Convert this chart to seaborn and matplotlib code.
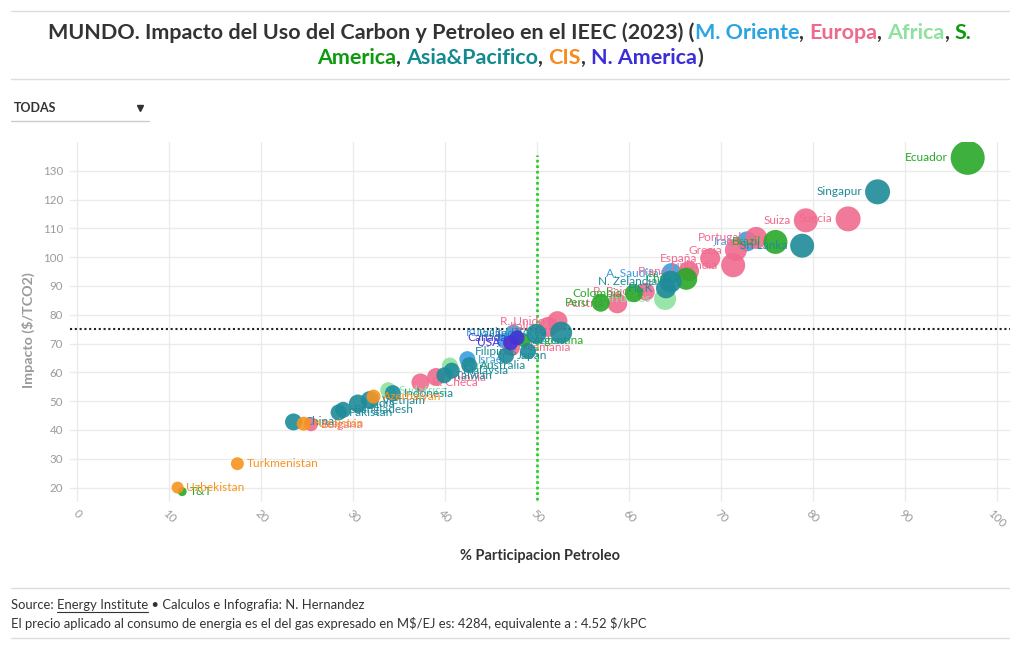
import matplotlib
matplotlib.use("Agg")
import numpy as np
import pandas as pd
import matplotlib.pyplot as plt
import seaborn as sns
from matplotlib.lines import Line2D

# ---------------- data ----------------
paises = ["Ecuador", "Singapur", "Suecia", "Suiza", "Sri Lanka", "Brazil", "Portugal", "Iraq",
          "Grecia", "Finlandia", "España", "Francia", "Chile", "A. Saudita", "N. Zelandia", "H&K",
          "Marruecos", "P. Bajos", "Colombia", "Austria", "Peru", "R. Unido", "Italia", "Korea",
          "Tailandia", "Kuwait", "Canada", "USA", "Filipinas", "E. Arabes", "Argentina", "Alemania",
          "Japan", "Israel", "Australia", "Egipto", "Malaysia", "Taiwan", "Polonia", "R. Checa",
          "Sudafrica", "Indonesia", "Azerbaiyan", "Vietnam", "India", "Bangladesh", "Pakistan",
          "China", "Kazajstan", "Bulgaria", "Turkmenistan", "Uzbekistan", "T&T"]
regiones = ["S. America", "Asia&Pacifico", "Europa", "Europa", "Asia&Pacifico", "S. America", "Europa", "M. Oriente",
            "Europa", "Europa", "Europa", "Europa", "S. America", "M. Oriente", "Asia&Pacifico", "Asia&Pacifico",
            "Africa", "Europa", "S. America", "Europa", "S. America", "Europa", "Europa", "Asia&Pacifico",
            "Asia&Pacifico", "M. Oriente", "N. America", "N. America", "Asia&Pacifico", "M. Oriente", "S. America", "Europa",
            "Asia&Pacifico", "M. Oriente", "Asia&Pacifico", "Africa", "Asia&Pacifico", "Asia&Pacifico", "Europa", "Europa",
            "Africa", "Asia&Pacifico", "CIS", "Asia&Pacifico", "Asia&Pacifico", "Asia&Pacifico", "Asia&Pacifico",
            "Asia&Pacifico", "CIS", "Europa", "CIS", "CIS", "S. America"]
petroleo = [96.8, 87.0, 83.8, 79.2, 78.8, 75.9, 73.8, 72.8,
            71.6, 71.3, 68.8, 66.5, 66.2, 64.6, 64.5, 64.0,
            63.9, 61.8, 60.5, 58.7, 56.9, 52.2, 51.2, 52.6,
            49.9, 47.4, 47.8, 47.1, 49.0, 46.5, 48.5, 47.2,
            46.6, 42.4, 42.6, 40.5, 40.7, 39.9, 39.0, 37.3,
            33.8, 34.3, 32.2, 31.8, 30.5, 28.9, 28.4,
            23.5, 24.6, 25.4, 17.4, 10.9, 11.4]
impacto = [134.5, 122.7, 113.3, 112.8, 104.0, 105.3, 106.7, 105.5,
           102.5, 97.2, 99.6, 95.2, 92.5, 94.5, 91.5, 89.2,
           85.5, 88.0, 87.5, 84.0, 84.2, 77.8, 75.8, 73.8,
           73.4, 73.8, 72.0, 70.3, 67.4, 71.0, 71.2, 68.6,
           65.8, 64.6, 62.5, 62.4, 60.6, 59.0, 58.4, 56.5,
           53.8, 52.8, 51.6, 50.4, 49.2, 47.0, 46.1,
           42.8, 42.2, 42.0, 28.3, 20.0, 18.6]
consumo = [289, 156, 156, 144, 144, 144, 121, 100,
           121, 144, 100, 100, 121, 100, 121, 100,
           121, 81, 81, 100, 81, 100, 100, 121,
           100, 64, 56, 56, 64, 64, 49, 72,
           64, 64, 64, 64, 64, 64, 81, 81,
           64, 64, 49, 81, 81, 64, 64,
           72, 49, 49, 42, 36, 20]
lado_etiqueta = ["l"] * 30 + ["r"] * 23
lado_etiqueta[29] = "r"
lado_etiqueta[28] = "l"

orden_regiones = ["M. Oriente", "Europa", "Africa", "S. America", "Asia&Pacifico", "CIS", "N. America"]
colores = {"M. Oriente": "#3a9ee0", "Europa": "#f06b8f", "Africa": "#8ee2a0", "S. America": "#28a828",
           "Asia&Pacifico": "#1f8b99", "CIS": "#f7941f", "N. America": "#4533d6"}
colores_titulo = {"M. Oriente": "#2aa4e4", "Europa": "#ee6a8d", "Africa": "#8ee2a0", "S. America": "#0e9a0e",
                  "Asia&Pacifico": "#128a90", "CIS": "#f78b1f", "N. America": "#3b2ed8"}

ref_x, ref_x_desde, ref_x_hasta = 50, 15.8, 135.5
ref_y = 75

# ---------------- figure ----------------
sns.set_theme(style="white")
plt.rcParams['font.family'] = ['Lato', 'DejaVu Sans']

W, H = 1020, 650
fig = plt.figure(figsize=(W / 100, H / 100), dpi=100)
fig.patch.set_facecolor("white")
ax = fig.add_axes([70 / W, 1 - 502 / H, (1010 - 70) / W, (502 - 142) / H])

df = pd.DataFrame(dict(pais=paises, region=regiones, petroleo=petroleo, impacto=impacto,
                       consumo=consumo, lado=lado_etiqueta))
cmin, cmax = df.consumo.min(), df.consumo.max()
k = 2.0736

ax.axhline(ref_y, color="#222222", lw=1.5, ls=(0, (1, 1.3)), zorder=2)
ax.vlines(ref_x, ref_x_desde, ref_x_hasta, color="#22cc22", lw=1.9, ls=(0, (1, 1.1)), zorder=2)

for i, reg in enumerate(orden_regiones):
    sub = df[df.region == reg]
    sns.scatterplot(data=sub, x="petroleo", y="impacto", size="consumo",
                    sizes=(k * cmin, k * cmax), size_norm=(cmin, cmax),
                    color=colores[reg], alpha=0.9, linewidth=0, legend=False,
                    ax=ax, zorder=3 + 2 * i)
    for row in sub.itertuples():
        r_pt = np.sqrt(k * row.consumo) / 2
        off = r_pt + 2
        left = row.lado == "l"
        ax.annotate(row.pais, (row.petroleo, row.impacto),
                    xytext=(-off if left else off, 0), textcoords="offset points",
                    ha="right" if left else "left", va="center", fontsize=8.6,
                    color=colores[reg], zorder=4 + 2 * i)

ax.set_xlim(-0.8, 101.4)
ax.set_ylim(15, 140)
ax.set_xticks(range(0, 101, 10))
ax.set_yticks(range(20, 131, 10))
ax.grid(True, color="#ebebeb", lw=1)
ax.set_axisbelow(True)
for s in ax.spines.values():
    s.set_visible(False)
ax.tick_params(axis="both", length=0, labelsize=8.3, labelcolor="#9a9a9a")
ax.tick_params(axis="y", pad=5)
ax.tick_params(axis="x", pad=4)
plt.setp(ax.get_xticklabels(), rotation=-45, ha="center")
ax.set_xlabel("")
ax.set_ylabel("")

fig.text(540 / W, 1 - 556 / H, "% Participacion Petroleo", ha="center", va="center",
         fontsize=10.5, weight="bold", color="#333333")
fig.text(28 / W, 1 - 330 / H, "Impacto ($/TCO2)", ha="center", va="center", rotation=90,
         fontsize=10.3, weight="bold", color="#9a9a9a", parse_math=False)

renderer = fig.canvas.get_renderer()


def text_width(s, **kw):
    if not s:
        return 0.0
    t = fig.text(0, 0, s + "|", parse_math=False, **kw)
    w1 = t.get_window_extent(renderer).width
    t.remove()
    t = fig.text(0, 0, "|", parse_math=False, **kw)
    w2 = t.get_window_extent(renderer).width
    t.remove()
    return w1 - w2


def draw_segments(segs, y_px, x_px, align="center", **kw):
    full = "".join(s for s, _ in segs)
    total = text_width(full, **kw)
    x0 = x_px - total / 2 if align == "center" else x_px
    pos = []
    prefix = ""
    for s, c in segs:
        x = x0 + text_width(prefix, **kw)
        fig.text(x / W, 1 - y_px / H, s, color=c, ha="left", va="center", parse_math=False, **kw)
        pos.append((x, x + text_width(s, **kw)))
        prefix += s
    return pos


dark = "#333333"
linea1 = [("MUNDO. Impacto del Uso del Carbon y Petroleo en el IEEC (2023) (", dark),
          ("M. Oriente", colores_titulo["M. Oriente"]), (", ", dark),
          ("Europa", colores_titulo["Europa"]), (", ", dark),
          ("Africa", colores_titulo["Africa"]), (", ", dark),
          ("S.", colores_titulo["S. America"])]
linea2 = [("America", colores_titulo["S. America"]), (", ", dark),
          ("Asia&Pacifico", colores_titulo["Asia&Pacifico"]), (", ", dark),
          ("CIS", colores_titulo["CIS"]), (", ", dark),
          ("N. America", colores_titulo["N. America"]), (")", dark)]
w_test = text_width("".join(s for s, _ in linea1), fontsize=15, weight="bold")
fs_title = 15 * 924 / w_test
draw_segments(linea1, 33, 510, fontsize=fs_title, weight="bold")
draw_segments(linea2, 58, 510, fontsize=fs_title, weight="bold")

# dropdown
fig.text(14 / W, 1 - 108 / H, "TODAS", ha="left", va="center", fontsize=9, weight="bold", color="#333333")
fig.add_artist(Line2D([140 / W], [1 - 108 / H], marker="v", color="#333333", markersize=5,
                      transform=fig.transFigure))
fig.add_artist(Line2D([11 / W, 149 / W], [1 - 121 / H] * 2, color="#cccccc", lw=1, transform=fig.transFigure))

# rules
for yy in (11, 79, 588, 638):
    fig.add_artist(Line2D([11 / W, 1009 / W], [1 - yy / H] * 2, color="#dddddd", lw=1,
                          transform=fig.transFigure))

# footer
pie2 = "El precio aplicado al consumo de energia es el del gas expresado en M$/EJ es: 4284, equivalente a : 4.52 $/kPC"
fs_pie = 9 * 636 / text_width(pie2, fontsize=9)
pos = draw_segments([("Source: ", dark), ("Energy Institute", dark),
                     (" • Calculos e Infografia: N. Hernandez", dark)], 605, 11, align="left",
                    fontsize=fs_pie)
x_a, x_b = pos[1]
fig.add_artist(Line2D([x_a / W, x_b / W], [1 - 612 / H] * 2, color=dark, lw=0.8, transform=fig.transFigure))
draw_segments([(pie2, dark)], 623, 11, align="left", fontsize=fs_pie)

fig.savefig("out.png", dpi=100)
